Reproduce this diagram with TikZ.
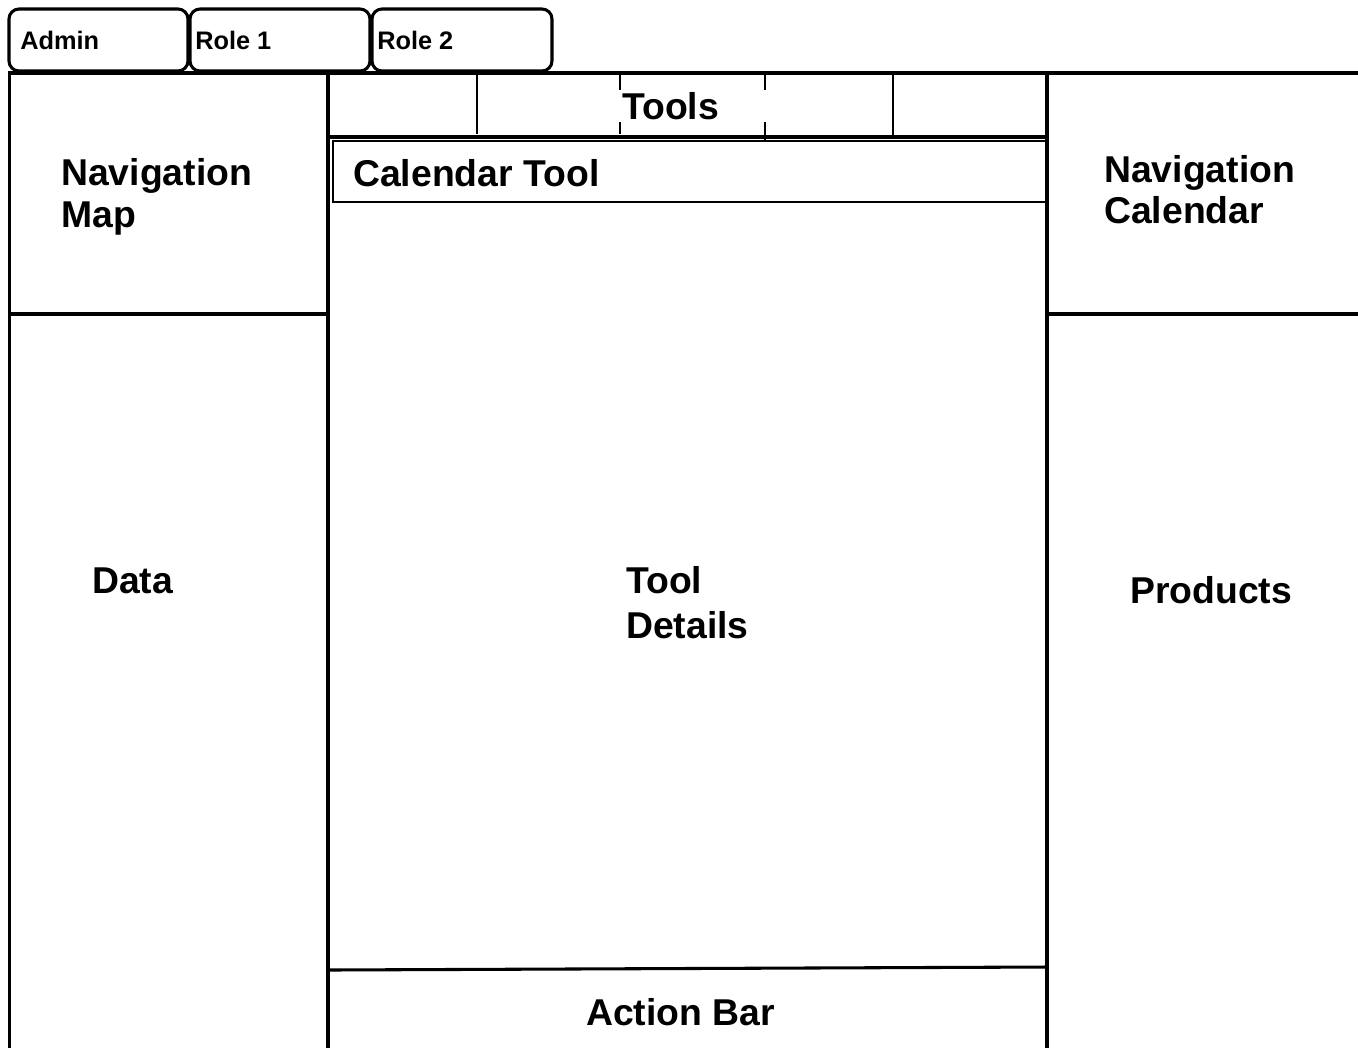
\documentclass[tikz,border=0pt]{standalone}
\usepackage{fontspec}
\setmainfont{Liberation Sans}
\begin{document}
\begin{tikzpicture}[x=0.75pt,y=-0.75pt,
  heavy/.style={line width=2.3pt},
  light/.style={line width=1.1pt},
  tab/.style={line width=2.3pt, rounded corners=7.5pt},
  big/.style={font=\bfseries\fontsize{28}{31.5}\selectfont, inner sep=0pt, align=left},
  small/.style={font=\bfseries\fontsize{19}{22}\selectfont, inner sep=0pt}]
\useasboundingbox (0,0) rectangle (1358,1047);

% role tabs
\draw[tab] (9,9) rectangle (188,71);
\draw[tab] (190,9) rectangle (370,71);
\draw[tab] (372,9) rectangle (552,71);
\node[small, anchor=base west] (admin) at (20,49) {Admin};
\node[small, anchor=base west] (role1) at (195,49) {Role 1};
\node[small, anchor=base west] (role2) at (377,49) {Role 2};

% frame
\draw[heavy] (8,73) -- (1360,73);
\draw[heavy] (9.5,73) -- (9.5,1050);
\draw[heavy] (328,73) -- (328,1050);
\draw[heavy] (1047,73) -- (1047,1050);
\draw[heavy] (9,314) -- (328,314);
\draw[heavy] (1047,314) -- (1360,314);

% tools bar
\draw[heavy] (328,137) -- (1047,137);
\draw[light] (477,75) -- (477,134);
\draw[light] (893,75) -- (893,137);
\draw[light] (620,75) -- (620,90);
\draw[light] (620,122) -- (620,134);
\draw[light] (765,75) -- (765,90);
\draw[light] (765,122) -- (765,140);

% calendar tool box
\draw[light] (333,141) rectangle (1047,202);

% action bar
\draw[heavy] (328,970) -- (1047,967);

% labels
\node[big, anchor=base west] (tools) at (622,119) {Tools};
\node[big, anchor=base west] (cal) at (353,186) {Calendar Tool};
\node[big, anchor=north west] (navmap) at (61,158) {Navigation\\Map};
\node[big, anchor=north west, font=\bfseries\fontsize{28}{31.2}\selectfont] (navcal) at (1104,155) {Navigation\\Calendar};
\node[big, anchor=base west] (data) at (92,593) {Data};
\node[big, anchor=north west, font=\bfseries\fontsize{28}{33.75}\selectfont] (details) at (626,566) {Tool\\Details};
\node[big, anchor=base west] (products) at (1130,603) {Products};
\node[big, anchor=base west] (action) at (586,1025) {Action Bar};
\end{tikzpicture}
\end{document}
